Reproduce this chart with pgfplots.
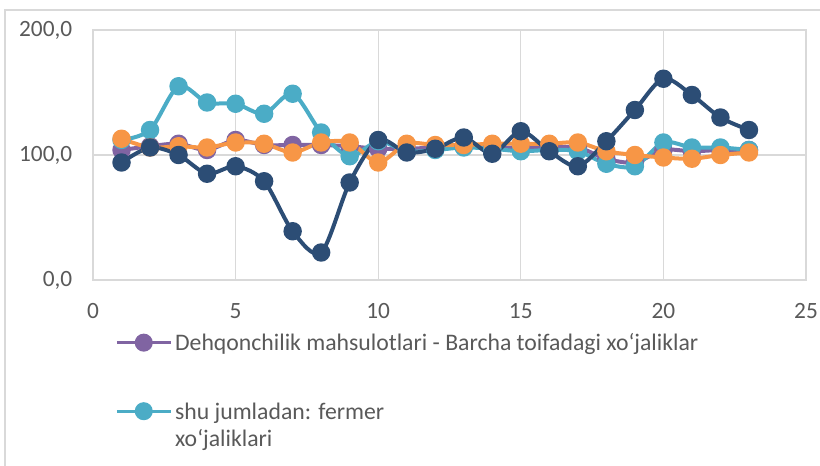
\documentclass[border=0pt]{standalone}
\usepackage{pgfplots}
\pgfplotsset{compat=1.18}
\usepackage{fontspec}
\setmainfont{Carlito}
\definecolor{cpurple}{HTML}{8064A2}
\definecolor{caqua}{HTML}{4BACC6}
\definecolor{cnavy}{HTML}{2C4D75}
\definecolor{corange}{HTML}{F79646}
\definecolor{cgrid}{HTML}{D9D9D9}
\definecolor{ctext}{HTML}{595959}
\begin{document}
\begin{tikzpicture}
\useasboundingbox (0pt,0pt) rectangle (615pt,349.5pt);
\draw[cgrid,line width=1pt] (3.75pt,0pt) -- (3.75pt,342pt) -- (615pt,342pt);
\begin{axis}[
  at={(69.75pt,139.5pt)}, anchor=south west,
  scale only axis, width=534.75pt, height=187.5pt,
  xmin=0, xmax=25, ymin=0, ymax=200,
  xtick={0,5,10,15,20,25}, ytick={0,100,200},
  grid=major, major grid style={cgrid,line width=1pt},
  axis line style={cgrid,line width=1pt},
  major tick length=0pt,
  tick label style={font=\fontsize{17.5}{21}\selectfont, text=ctext},
  /pgf/number format/assume math mode=true,
  yticklabel style={/pgf/number format/fixed, /pgf/number format/fixed zerofill, /pgf/number format/precision=1, /pgf/number format/use comma, xshift=-12pt},
  xticklabel style={yshift=-14pt},
  legend cell align=left,
  legend style={draw=none, fill=none, at={(0.025,-0.19)}, anchor=north west,
    font=\fontsize{17.8}{20}\selectfont, text=ctext, row sep=32.5pt, column sep=0pt},
  legend image code/.code={\draw[mark repeat=2,mark phase=2,#1,line width=2.5pt,mark size=5.5pt] plot coordinates {(0pt,0pt) (20.25pt,0pt) (40.5pt,0pt)};},
  every axis plot/.append style={line width=3pt, smooth, tension=0.5, mark=*, mark size=5.4pt, mark options={solid}},
]
\addplot[color=cpurple] coordinates {
(1,104) (2,107) (3,109) (4,104) (5,112) (6,108) (7,108) (8,108) (9,107) (10,105)
(11,105) (12,106) (13,107) (14,106) (15,106) (16,106) (17,106) (18,97) (19,94) (20,104)
(21,103) (22,104) (23,104)};
\addlegendentry{Dehqonchilik mahsulotlari - Barcha toifadagi xo‘jaliklar}
\addplot[color=caqua] coordinates {
(1,112) (2,120) (3,155) (4,142) (5,141) (6,133) (7,149) (8,118) (9,99) (10,111)
(11,103) (12,104) (13,106) (14,105) (15,103) (16,104) (17,103) (18,93) (19,91) (20,110)
(21,106) (22,106) (23,104)};
\addlegendentry{\begin{tabular}[t]{@{}l@{}}shu jumladan: fermer\\xo‘jaliklari\end{tabular}}
\addplot[color=corange] coordinates {
(1,113) (2,106) (3,107) (4,106) (5,110) (6,109) (7,102) (8,110) (9,110) (10,94)
(11,109) (12,108) (13,108) (14,109) (15,109) (16,109) (17,110) (18,103) (19,100) (20,98)
(21,97) (22,100) (23,102)};
\addplot[color=cnavy] coordinates {
(1,94) (2,106) (3,100) (4,85) (5,91) (6,79) (7,39) (8,22) (9,78) (10,112)
(11,102) (12,105) (13,114) (14,101) (15,119) (16,103) (17,91) (18,111) (19,136) (20,161)
(21,148) (22,130) (23,120)};
\end{axis}
\end{tikzpicture}
\end{document}
